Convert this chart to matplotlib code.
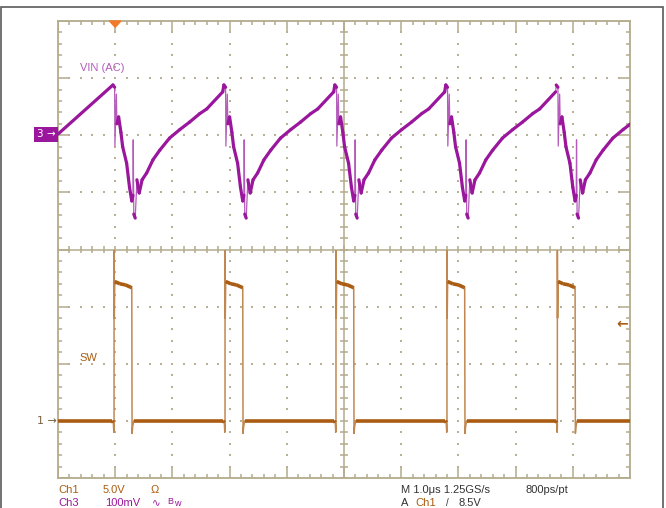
import matplotlib
matplotlib.use("Agg")
import matplotlib.pyplot as plt
from matplotlib.patches import Rectangle, Polygon
from matplotlib.collections import LineCollection
import numpy as np

plt.rcParams['font.family'] = ['Liberation Sans', 'DejaVu Sans']

# Scope screen: 10 x 8 divisions, centre at (0, 0), 1.0 us/div
# Ch1 (SW) rising edges, in divisions from screen centre
EDGE_T = [-4.02, -2.08, -0.14, 1.80, 3.73]
TRIG_POS = -4.0

# Ch1 ground / trigger level (div), Ch3 ground (div)
CH1_REF = -3.0
CH3_REF = 2.02
TRIG_LEVEL = -1.3

# SW node, one pulse relative to its rising edge
SW_TAU = [-0.03, -0.012, -0.004, 0.0, 0.0, 0.004, 0.012, 0.10, 0.20, 0.29, 0.31, 0.315, 0.325, 0.345]
SW_VAL = [-3.0, -3.03, -3.2, -3.1, -0.02, -1.2, -0.56, -0.60, -0.62, -0.66, -0.67, -3.22, -3.1, -3.0]
SW_LOW = -3.0

# VIN (AC) ripple, one period relative to the SW rising edge
VIN_TAU = [-0.02, 0.01, 0.015, 0.04, 0.05, 0.08, 0.12, 0.15, 0.22, 0.27, 0.31,
           0.33, 0.335, 0.345, 0.37, 0.40, 0.44, 0.49, 0.57, 0.68, 0.80,
           0.97, 1.15, 1.32, 1.50, 1.62, 1.90]
VIN_VAL = [2.88, 2.84, 1.81, 2.72, 2.20, 2.32, 2.05, 1.80, 1.51, 1.09, 0.85,
           0.95, 1.92, 0.62, 0.55, 1.22, 0.99, 1.22, 1.34, 1.57, 1.74,
           1.95, 2.10, 2.23, 2.38, 2.46, 2.76]
VIN_START = 2.02

GRID = '#b4ab8c'
DOT = '#b9b195'
PURPLE = '#9a169c'
PURPLE_L = '#b45cba'
BROWN = '#a95c12'
BROWN_L = '#c08850'
TXT = '#333333'

fig = plt.figure(figsize=(6.66, 5.08), dpi=100)
W, H = 666, 508
ax = fig.add_axes([58 / W, 1 - 478 / H, 572 / W, 457 / H])
ax.set_xlim(-5, 5)
ax.set_ylim(-4, 4)
ax.set_xticks([])
ax.set_yticks([])
for sp in ax.spines.values():
    sp.set_color(GRID)
    sp.set_linewidth(1.3)

# outer frame of the screenshot
fig.add_artist(Rectangle((1 / W, -0.1), 662 / W, 1.1 - 7 / H, transform=fig.transFigure,
                         fill=False, ec='#5a5a5a', lw=1.2))

# graticule
px = 10 / 572.0
minor = np.round(np.arange(-5, 5.001, 0.2), 3)
minor_y = np.round(np.arange(-4, 4.001, 0.2), 3)
segs = []
for v in minor:
    L = 11 * px if abs(v - round(v)) < 1e-6 else 4 * px
    segs.append([(v, 4), (v, 4 - L)])
    segs.append([(v, -4), (v, -4 + L)])
    segs.append([(v, -4 * px), (v, 4 * px)])
for v in minor_y:
    L = 11 * px if abs(v - round(v)) < 1e-6 else 4 * px
    segs.append([(-5, v), (-5 + L, v)])
    segs.append([(5, v), (5 - L, v)])
    segs.append([(-4 * px, v), (4 * px, v)])
ax.add_collection(LineCollection(segs, colors=GRID, linewidths=1.1, zorder=1))
ax.axhline(0, color=GRID, lw=1.1, zorder=1)
ax.axvline(0, color=GRID, lw=1.1, zorder=1)

dx, dy = [], []
for xv in [-4, -3, -2, -1, 1, 2, 3, 4]:
    for yv in minor_y[1:-1]:
        dx.append(xv)
        dy.append(yv)
for yv in [-3, -2, -1, 1, 2, 3]:
    for xv in minor[1:-1]:
        dx.append(xv)
        dy.append(yv)
ax.scatter(dx, dy, s=1.3, marker='s', color=DOT, linewidths=0, zorder=1)

# Ch3 trace
vx, vy = [-5.0], [VIN_START]
for e in EDGE_T:
    vx += [e + t for t in VIN_TAU]
    vy += VIN_VAL
ax.plot(vx, vy, color=PURPLE_L, lw=0.9, zorder=3)
vx, vy = np.array(vx), np.array(vy)
slope = np.abs(np.diff(vy) / np.maximum(np.diff(vx), 1e-6))
pts = np.column_stack([vx, vy])
thick = [[pts[i], pts[i + 1]] for i in range(len(slope)) if slope[i] < 12]
ax.add_collection(LineCollection(thick, colors=PURPLE, linewidths=2.3, capstyle='round', zorder=4))

# Ch1 trace
sx, sy = [-5.0], [SW_LOW]
for e in EDGE_T:
    sx += [e + t for t in SW_TAU]
    sy += SW_VAL
sx += [5.0]
sy += [SW_LOW]
ax.plot(sx, sy, color=BROWN_L, lw=1.1, zorder=3)
sx, sy = np.array(sx), np.array(sy)
slope = np.abs(np.diff(sy) / np.maximum(np.diff(sx), 1e-6))
pts = np.column_stack([sx, sy])
thick = [[pts[i], pts[i + 1]] for i in range(len(slope)) if slope[i] < 3]
ax.add_collection(LineCollection(thick, colors=BROWN, linewidths=2.6, zorder=4))

# channel labels on screen
ax.text(-4.62, 3.17, 'VIN (AC)', color=PURPLE_L, fontsize=8, va='center')
ax.text(-4.62, -1.9, 'SW', color=BROWN, fontsize=8, va='center')

# ground markers, trigger markers
yt = ax.get_yaxis_transform()
ax.text(-0.004, CH3_REF, '3 \u2192', transform=yt, ha='right', va='center', color='white',
        fontsize=7.5, family='DejaVu Sans', clip_on=False,
        bbox=dict(boxstyle='square,pad=0.25', fc=PURPLE, ec='none'))
ax.text(-0.002, CH1_REF, '1 \u2192', transform=yt, ha='right', va='center', color='#7a6040',
        fontsize=8, family='DejaVu Sans', clip_on=False)
ax.text(0.997, TRIG_LEVEL, '\u2190', transform=yt, ha='right', va='center', color=BROWN,
        fontsize=10, family='DejaVu Sans', fontweight='bold', clip_on=False)
ax.add_patch(Polygon([(TRIG_POS - 0.1, 4.0), (TRIG_POS + 0.1, 4.0), (TRIG_POS, 3.89)],
                     closed=True, color='#f27a2a', clip_on=False, zorder=6))

# readout
def ftext(x, y, s, c=TXT, size=8):
    fig.text(x / W, 1 - y / H, s, color=c, fontsize=size, va='center', ha='left')

ftext(58, 490, 'Ch1', BROWN)
ftext(103, 490, '5.0V', BROWN)
ftext(151, 490, '\u03a9', BROWN)
ftext(58, 503, 'Ch3', PURPLE)
ftext(105, 503, '100mV', PURPLE)
ftext(152, 503, '\u223f', PURPLE, 7.5)
ftext(167, 502, 'B', PURPLE, 6.5)
ftext(174, 503, 'w', PURPLE, 6.5)
ftext(401, 490, 'M 1.0\u03bcs 1.25GS/s')
ftext(526, 490, '800ps/pt')
ftext(401, 503, 'A')
ftext(415, 503, 'Ch1', BROWN)
ftext(446, 503, '/', TXT, 7)
ftext(459, 503, '8.5V')

fig.savefig('out.png', dpi=100)
